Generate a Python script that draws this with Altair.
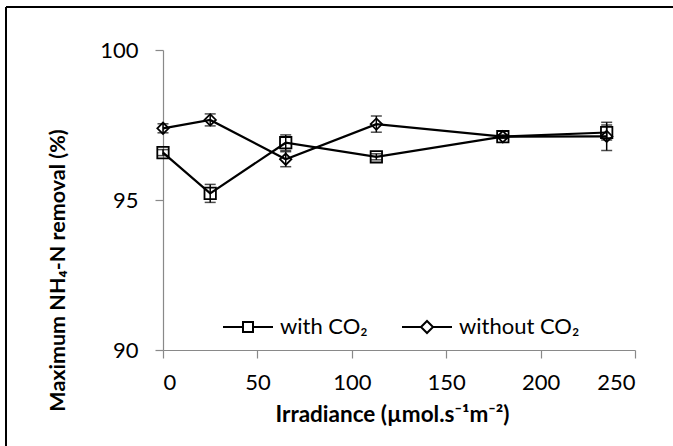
import altair as alt
import pandas as pd

irradiance = [0, 25, 65, 113, 180, 235]
with_co2 = [96.58, 95.22, 96.91, 96.44, 97.11, 97.25]
with_err = [0.1, 0.3, 0.26, 0.1, 0.05, 0.25]
without_co2 = [97.39, 97.67, 96.36, 97.53, 97.11, 97.12]
without_err = [0.15, 0.2, 0.25, 0.27, 0.05, 0.47]
series_names = ["with CO\u2082", "without CO\u2082"]

rows = []
for x, v, e in zip(irradiance, with_co2, with_err):
    rows.append({"x": x, "y": v, "lo": v - e, "hi": v + e, "series": series_names[0]})
for x, v, e in zip(irradiance, without_co2, without_err):
    rows.append({"x": x, "y": v, "lo": v - e, "hi": v + e, "series": series_names[1]})
df = pd.DataFrame(rows)

FONT = "Lato"
W, H = 472, 300

xenc = alt.X("x:Q", scale=alt.Scale(domain=[0, 250], nice=False),
             axis=alt.Axis(values=[0, 50, 100, 150, 200, 250], title="Irradiance (\u00b5mol.s\u207b\u00b9m\u207b\u00b2)",
                           titleX=229, titleY=71, titleBaseline="alphabetic", titleAnchor="middle",
                           titleFontSize=22.5))
yenc = alt.Y("y:Q", scale=alt.Scale(domain=[90, 100], nice=False, zero=False),
             axis=alt.Axis(values=[90, 95, 100], title="Maximum NH\u2084-N removal (%)",
                           titleX=-99, titleY=220, titleBaseline="alphabetic", titleAnchor="middle",
                           titleFontSize=21.5))

base = alt.Chart(df)

lines = base.mark_line(color="black", strokeWidth=2.25).encode(x=xenc, y=yenc, detail="series:N")
rules = base.mark_rule(color="black", strokeWidth=1.5).encode(x="x:Q", y="lo:Q", y2="hi:Q")
cap_lo = base.mark_tick(color="black", orient="horizontal", size=11, thickness=1.5).encode(x="x:Q", y="lo:Q")
cap_hi = base.mark_tick(color="black", orient="horizontal", size=11, thickness=1.5).encode(x="x:Q", y="hi:Q")
points = base.mark_point(color="black", filled=False, strokeWidth=1.8, size=130, opacity=1).encode(
    x="x:Q", y="y:Q",
    shape=alt.Shape("series:N", scale=alt.Scale(domain=series_names, range=["square", "diamond"]), legend=None),
)

legend_paths = [
    "M-1,0H-0.2M0.2,0H1M-0.2,-0.2H0.2V0.2H-0.2Z",
    "M-1,0H-0.24M0.24,0H1M-0.24,0L0,-0.24L0.24,0L0,0.24Z",
]
legend_layer = base.transform_filter("false").mark_point(color="black", filled=False, strokeWidth=2, opacity=1).encode(
    x="x:Q", y="y:Q",
    shape=alt.Shape("series:N", scale=alt.Scale(domain=series_names, range=legend_paths),
                    legend=alt.Legend(title=None, orient="none", legendX=59, legendY=251, direction="horizontal",
                                      symbolSize=2500, symbolStrokeWidth=2, symbolStrokeColor="black",
                                      symbolFillColor="transparent", symbolOpacity=1,
                                      labelFont=FONT, labelFontSize=22, labelColor="black",
                                      labelOffset=6, columnPadding=30)),
)

frame_top = alt.Chart(pd.DataFrame({"k": [0]})).mark_rule(color="black", strokeWidth=2).encode(
    x=alt.value(-157), x2=alt.value(520), y=alt.value(-43))
frame_left = alt.Chart(pd.DataFrame({"k": [0]})).mark_rule(color="black", strokeWidth=2).encode(
    x=alt.value(-157), y=alt.value(-43), y2=alt.value(410))

chart = alt.layer(lines, rules, cap_lo, cap_hi, points, legend_layer, frame_top, frame_left).resolve_scale(
    shape="independent"
).properties(
    width=W, height=H,
    autosize=alt.AutoSizeParams(type="none"),
    padding={"left": 163, "top": 50, "right": 38, "bottom": 96},
    background="white",
).configure_view(stroke=None).configure_axis(
    grid=False, domainColor="#898989", tickColor="#898989", domainWidth=1.2, tickWidth=1.2,
    tickSize=8, labelFont=FONT, labelFontSize=22, labelColor="black",
    titleFont=FONT, titleFontSize=21, titleFontWeight="bold", titleColor="black",
).configure_axisY(labelPadding=17).configure_axisX(labelPadding=14)

chart.save("out.html", embed_options={"renderer": "svg", "actions": False})
